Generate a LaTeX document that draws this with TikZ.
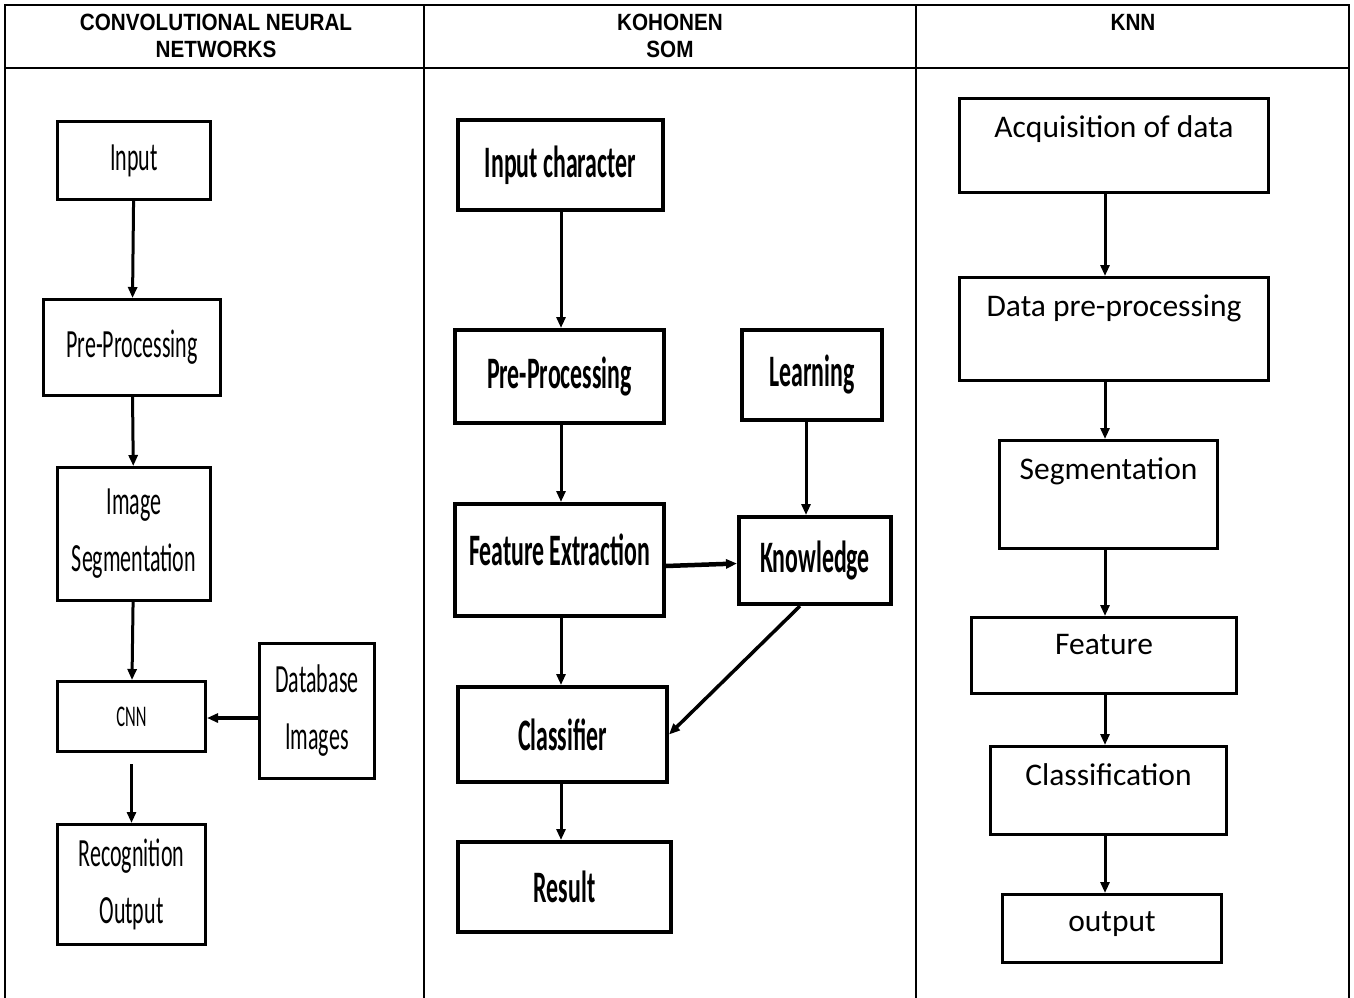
\documentclass[tikz,border=0pt]{standalone}
\usepackage{fontspec}
\setmainfont{Liberation Sans}
\newfontfamily\headfont[FakeStretch=0.88]{Liberation Sans}
\newfontfamily\cnnfont[FakeStretch=0.55]{Carlito}
\newfontfamily\somfont[FakeStretch=0.53]{Carlito}
\newfontfamily\knnfont{Carlito}
\usetikzlibrary{arrows.meta}

\begin{document}
\begin{tikzpicture}[x=1pt, y=-1pt, line width=3pt, >={Triangle[length=11pt,width=9pt]},
    tbl/.style={line width=2pt},
    head/.style={font=\headfont\bfseries\fontsize{23.5}{27}\selectfont, align=center},
    cbox/.style={draw, line width=3pt, align=center, font=\cnnfont\fontsize{40}{57}\selectfont},
    sbox/.style={draw, line width=4pt, align=center, font=\somfont\bfseries\fontsize{45}{50}\selectfont},
    kbox/.style={draw, line width=3pt},
    ktext/.style={anchor=north, inner sep=0pt, yshift=-17pt, font=\knnfont\fontsize{31.5}{36}\selectfont}]
  \useasboundingbox (0,0) rectangle (1354,998);
  % table
  \draw[tbl] (5,998) -- (5,5) -- (1349,5) -- (1349,998);
  \draw[tbl] (5,68) -- (1349,68);
  \draw[tbl] (424,5) -- (424,998);
  \draw[tbl] (916,5) -- (916,998);
  \node[head] (hcnn) at (216,35.5) {CONVOLUTIONAL NEURAL\\NETWORKS};
  \node[head] (hsom) at (670,35.5) {KOHONEN\\SOM};
  \node[head] (hknn) at (1133,22) {KNN};

  % convolutional neural networks
  \node[cbox, minimum width=153pt, minimum height=78pt] (in) at (134,160.5) {Input};
  \node[cbox, minimum width=177pt, minimum height=96pt] (pre) at (132,347.5) {Pre-Processing};
  \node[cbox, minimum width=153pt, minimum height=133pt] (seg) at (134,534) {Image\\Segmentation};
  \node[cbox, minimum width=148pt, minimum height=70pt, font=\cnnfont\fontsize{30}{36}\selectfont] (cnn) at (131.5,716.5) {CNN};
  \node[cbox, minimum width=115pt, minimum height=135pt] (db) at (317,711) {Database\\Images};
  \node[cbox, minimum width=148pt, minimum height=120pt] (rec) at (131.5,884.5) {Recognition\\Output};
  \draw[->] (in) -- (pre);
  \draw[->] (pre) -- (seg);
  \draw[->] (seg) -- (cnn);
  \draw[->] ([yshift=-11pt]cnn.south) -- (rec);
  \draw[->, line width=3.5pt] (db.west |- 0,718) -- (cnn.east |- 0,718);

  % kohonen som
  \node[sbox, minimum width=205pt, minimum height=90pt] (ic) at (560.5,165) {Input character};
  \node[sbox, minimum width=209pt, minimum height=93pt] (spre) at (559.5,376.5) {Pre-Processing};
  \node[sbox, minimum width=140pt, minimum height=90pt] (learn) at (812,375) {Learning};
  \node[sbox, minimum width=209pt, minimum height=112pt, text depth=20pt] (feat) at (559.5,560) {Feature Extraction};
  \node[sbox, minimum width=152pt, minimum height=87pt] (know) at (815,560.5) {Knowledge};
  \node[sbox, minimum width=209pt, minimum height=95pt] (clf) at (562.5,734.5) {Classifier};
  \node[sbox, minimum width=213pt, minimum height=90pt] (res) at (564.5,887) {Result};
  \draw[->] (ic.south -| 561,0) -- (spre.north -| 561,0);
  \draw[->] (spre.south -| 561,0) -- (feat.north -| 561,0);
  \draw[->] (feat.south -| 561,0) -- (clf.north -| 561,0);
  \draw[->] (clf.south -| 561,0) -- (res.north -| 561,0);
  \draw[->] (learn.south -| 806,0) -- (know.north -| 806,0);
  \draw[->, line width=4.5pt] ([yshift=-6pt]feat.east) -- ([yshift=-3pt]know.west);
  \draw[->, line width=3.5pt] ([xshift=-15pt]know.south) -- (clf.east);

  % knn
  \coordinate (kx) at (1105,0);
  \node[kbox, minimum width=309pt, minimum height=94pt, label={[ktext]north:Acquisition of data}] (acq) at (1114,145.5) {};
  \node[kbox, minimum width=309pt, minimum height=103pt, label={[ktext]north:Data pre-processing}] (dpre) at (1114,329) {};
  \node[kbox, minimum width=218pt, minimum height=108pt, label={[ktext]north:Segmentation}] (kseg) at (1108.5,494.5) {};
  \node[kbox, minimum width=265pt, minimum height=76pt, label={[ktext]north:Feature}] (kfeat) at (1104,655.5) {};
  \node[kbox, minimum width=236pt, minimum height=88pt, label={[ktext]north:Classification}] (kclf) at (1108.5,790.5) {};
  \node[kbox, minimum width=219pt, minimum height=68pt, label={[ktext]north:output}] (kout) at (1112,928.5) {};
  \draw[->] (acq.south -| kx) -- (dpre.north -| kx);
  \draw[->] (dpre.south -| kx) -- (kseg.north -| kx);
  \draw[->] (kseg.south -| kx) -- (kfeat.north -| kx);
  \draw[->] (kfeat.south -| kx) -- (kclf.north -| kx);
  \draw[->] (kclf.south -| kx) -- (kout.north -| kx);
\end{tikzpicture}
\end{document}
